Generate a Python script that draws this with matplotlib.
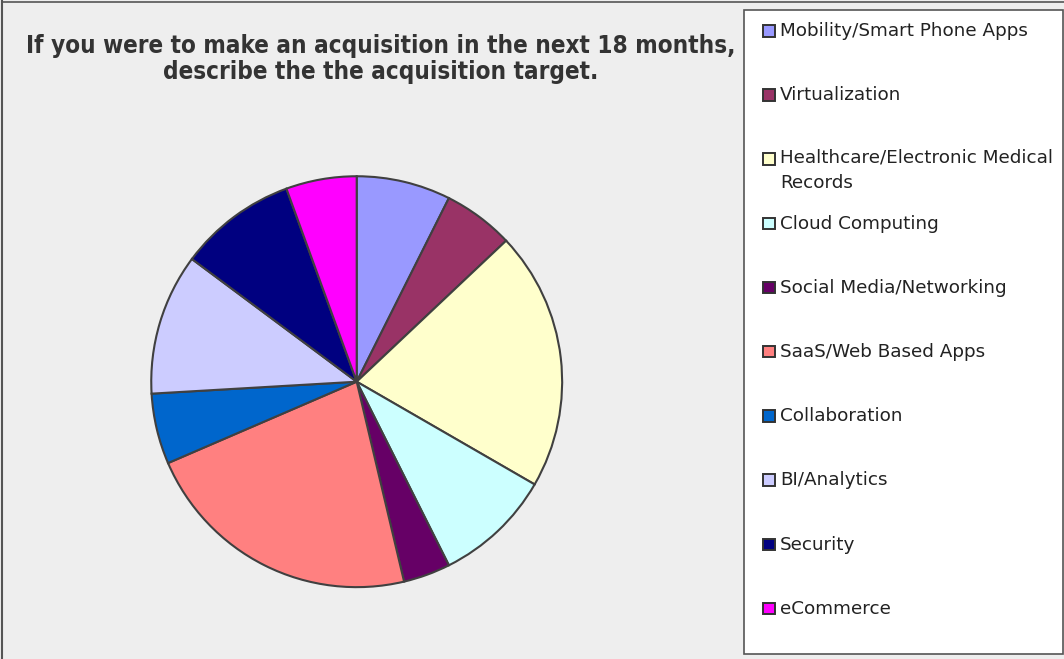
import matplotlib
matplotlib.use("Agg")
import matplotlib.pyplot as plt
from matplotlib.patches import Rectangle
from matplotlib.lines import Line2D

title = "If you were to make an acquisition in the next 18 months,\ndescribe the the acquisition target."
categories = [
    "Mobility/Smart Phone Apps",
    "Virtualization",
    "Healthcare/Electronic Medical\nRecords",
    "Cloud Computing",
    "Social Media/Networking",
    "SaaS/Web Based Apps",
    "Collaboration",
    "BI/Analytics",
    "Security",
    "eCommerce",
]
counts = [4, 3, 11, 5, 2, 12, 3, 6, 5, 3]
colors = ["#9999FF", "#993366", "#FFFFCC", "#CCFFFF", "#660066",
          "#FF8080", "#0066CC", "#CCCCFF", "#000080", "#FF00FF"]

W, H = 1064, 659
fig = plt.figure(figsize=(W / 100, H / 100), dpi=100)
fig.patch.set_facecolor("#EEEEEE")

def fx(px):
    return px / W

def fy(py):
    return 1 - py / H

# outer border lines (top and left)
fig.add_artist(Line2D([fx(2), fx(2)], [fy(1), fy(659)], color="#555555", lw=1.5))
fig.add_artist(Line2D([fx(2), fx(1064)], [fy(1.5), fy(1.5)], color="#555555", lw=1.2))

# pie
cx, cy, r = 356.7, 381.7, 207.5
ax = fig.add_axes([fx(cx - r), fy(cy + r), (2 * r) / W, (2 * r) / H])
ax.pie(counts, colors=colors, startangle=90, counterclock=False, radius=1,
       wedgeprops=dict(edgecolor="#404040", linewidth=1.5))
ax.set_xlim(-1.01, 1.01)
ax.set_ylim(-1.01, 1.01)
ax.set_aspect("equal")
ax.axis("off")

# title
fig.text(fx(381), fy(59), title, ha="center", va="center", fontsize=17.4,
         fontweight="bold", color="#333333", family="DejaVu Sans",
         fontstretch="condensed", linespacing=1.15)

# legend box
fig.add_artist(Rectangle((fx(744), fy(654)), fx(1062.5) - fx(744), fy(10) - fy(654),
                         facecolor="white", edgecolor="#555555", lw=1.2))
y0, dy = 31, 64.2
for i, (lab, col) in enumerate(zip(categories, colors)):
    yc = y0 + i * dy
    fig.add_artist(Rectangle((fx(763), fy(yc + 5.5)), 11.5 / W, 11.5 / H,
                             facecolor=col, edgecolor="#333333", lw=1.4))
    if "\n" in lab:
        fig.text(fx(780), fy(yc - 11), lab, ha="left", va="top", fontsize=13.2,
                 color="#222222", linespacing=1.55)
    else:
        fig.text(fx(780), fy(yc), lab, ha="left", va="center", fontsize=13.2,
                 color="#222222")

fig.savefig("out.png", dpi=100, facecolor=fig.get_facecolor())
